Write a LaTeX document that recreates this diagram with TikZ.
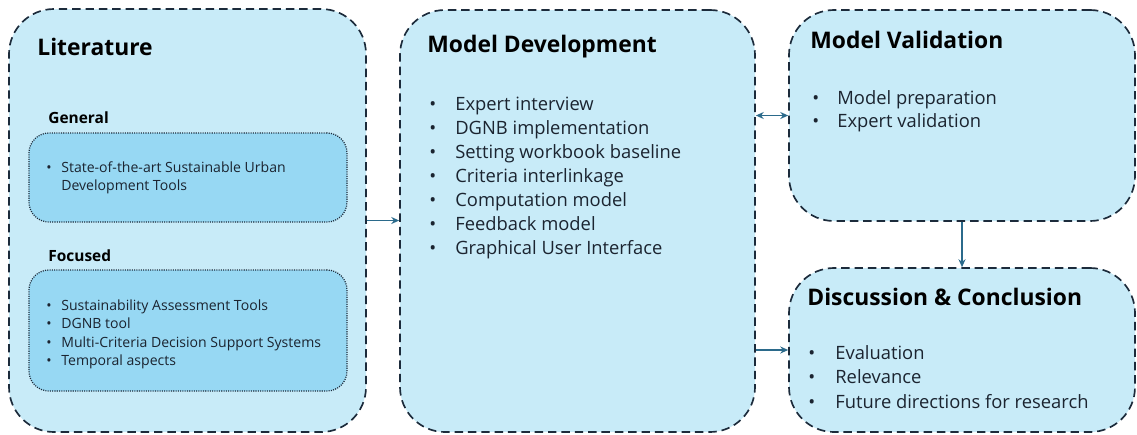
\documentclass[tikz,border=0pt]{standalone}
\usepackage{fontspec}
\setmainfont{Open Sans}
\usepackage{tikz}
\usetikzlibrary{arrows.meta,positioning,calc}

\definecolor{boxfill}{HTML}{C8EBF8}
\definecolor{innerfill}{HTML}{97D8F3}
\definecolor{boxline}{HTML}{1C2B3B}
\definecolor{flowcol}{HTML}{2B6A8B}
\definecolor{textcol}{HTML}{1B2430}

\tikzset{
  bigbox/.style={draw=boxline, fill=boxfill, line width=0.95pt,
    dash pattern=on 4.8pt off 2.8pt, rounded corners=0.9cm, inner sep=0pt},
  innerbox/.style={draw=boxline, fill=innerfill, line width=0.7pt,
    dash pattern=on 0.6pt off 0.7pt, rounded corners=0.4cm, inner sep=0pt},
  title/.style={anchor=west, inner sep=0pt, font=\fontsize{13}{15}\selectfont\bfseries, text=black},
  sublabel/.style={anchor=west, inner sep=0pt, font=\fontsize{8.8}{10}\selectfont\bfseries, text=black},
  item/.style={anchor=base west, inner sep=0pt, font=\fontsize{10.45}{12}\selectfont, text=textcol},
  smallitem/.style={anchor=base west, inner sep=0pt, font=\fontsize{8}{9}\selectfont, text=textcol},
  flow/.style={draw=flowcol, line width=0.8pt, -{Stealth[length=4.5pt,width=4pt]}},
}

\begin{document}
\begin{tikzpicture}
\useasboundingbox (0,0) rectangle (22.74,-8.68);

% Boxes
\node[bigbox, minimum width=7.14cm, minimum height=8.46cm] (lit) at (3.75,-4.41) {};
\node[bigbox, minimum width=7.10cm, minimum height=8.44cm] (model) at (11.55,-4.42) {};
\node[bigbox, minimum width=6.92cm, minimum height=4.22cm] (valid) at (19.24,-2.31) {};
\node[bigbox, minimum width=6.92cm, minimum height=3.28cm] (disc) at (19.24,-7.00) {};
\node[innerbox, minimum width=6.36cm, minimum height=1.78cm] (general) at (3.76,-3.55) {};
\node[innerbox, minimum width=6.36cm, minimum height=2.42cm] (focused) at (3.76,-6.61) {};

% Titles
\node[title] (littitle) at (0.74,-0.94) {Literature};
\node[title] (modeltitle) at (8.54,-0.94) {Model Development};
\node[title] (validtitle) at (16.20,-0.80) {Model Validation};
\node[title] (disctitle) at (16.14,-5.94) {Discussion \& Conclusion};
\node[sublabel] (genlabel) at (0.96,-2.36) {General};
\node[sublabel] (foclabel) at (0.96,-5.12) {Focused};

% Lists
\node[smallitem] (gen1) at (0.92,-3.44) {\makebox[0.3cm][l]{\textbullet}State-of-the-art Sustainable Urban};
\node[smallitem] (gen2) at (1.22,-3.80) {Development Tools};
\foreach \txt [count=\i] in {Sustainability Assessment Tools, DGNB tool,
    Multi-Criteria Decision Support Systems, Temporal aspects}
  \node[smallitem] (foc\i) at (0.92,{-6.21-0.366*(\i-1)}) {\makebox[0.3cm][l]{\textbullet}\txt};
\foreach \txt [count=\i] in {Expert interview, DGNB implementation,
    Setting workbook baseline, Criteria interlinkage, Computation model,
    Feedback model, Graphical User Interface}
  \node[item] (md\i) at (8.58,{-2.20-0.48*(\i-1)}) {\makebox[0.52cm][l]{\textbullet}\txt};
\foreach \txt [count=\i] in {Model preparation, Expert validation}
  \node[item] (mv\i) at (16.24,{-2.08-0.46*(\i-1)}) {\makebox[0.5cm][l]{\textbullet}\txt};
\foreach \txt [count=\i] in {Evaluation, Relevance, Future directions for research}
  \node[item] (dc\i) at (16.16,{-7.18-0.49*(\i-1)}) {\makebox[0.54cm][l]{\textbullet}\txt};

% Connectors
\draw[flow] (lit.east) -- (lit.east -| model.west);
\draw[flow, {Stealth[length=4.5pt,width=4pt]}-{Stealth[length=4.5pt,width=4pt]}] (valid.west -| model.east) -- (valid.west);
\draw[flow] (valid.south) -- (disc.north);
\draw[flow] (disc.west -| model.east) -- (disc.west);
\end{tikzpicture}
\end{document}
